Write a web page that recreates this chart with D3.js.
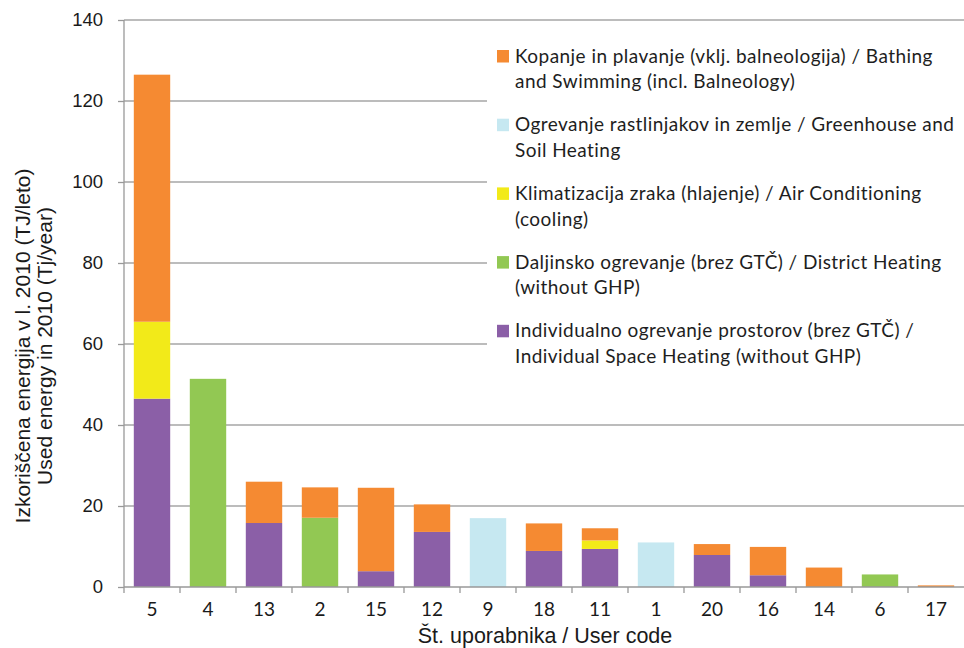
<!DOCTYPE html>
<html>
<head>
<meta charset="utf-8">
<script src="https://cdn.jsdelivr.net/npm/d3@7"></script>
<style>
  body { margin: 0; background: #fff; }
  svg { display: block; }
</style>
</head>
<body>
<div id="chart"></div>
<script>
// user codes along the x axis, sorted by total use
var users = ["5", "4", "13", "2", "15", "12", "9", "18", "11", "1", "20", "16", "14", "6", "17"];

// used energy in 2010 (TJ/year), one array per type of use
var individual = [46.5, 0, 15.8, 0, 3.9, 13.6, 0, 8.9, 9.4, 0, 7.9, 2.9, 0, 0, 0];
var district   = [0, 51.4, 0, 17.1, 0, 0, 0, 0, 0, 0, 0, 0, 0, 3.1, 0];
var cooling    = [19.0, 0, 0, 0, 0, 0, 0, 0, 2.1, 0, 0, 0, 0, 0, 0];
var greenhouse = [0, 0, 0, 0, 0, 0, 17.0, 0, 0, 11.0, 0, 0, 0, 0, 0];
var bathing    = [61.0, 0, 10.2, 7.5, 20.6, 6.8, 0, 6.8, 3.0, 0, 2.7, 7.0, 4.8, 0, 0.4];

var yTicks = [0, 20, 40, 60, 80, 100, 120, 140];

// legend entries, top to bottom
var legendLabels = [
  ["Kopanje in plavanje (vklj. balneologija) / Bathing", "and Swimming (incl. Balneology)"],
  ["Ogrevanje rastlinjakov in zemlje / Greenhouse and", "Soil Heating"],
  ["Klimatizacija zraka (hlajenje) / Air Conditioning", "(cooling)"],
  ["Daljinsko ogrevanje (brez GTČ) / District Heating", "(without GHP)"],
  ["Individualno ogrevanje prostorov (brez GTČ) /", "Individual Space Heating (without GHP)"]
];

var yTitle = ["Izkoriščena energija v l. 2010 (TJ/leto)", "Used energy in 2010 (Tj/year)"];
var xTitle = "Št. uporabnika / User code";

// build rows for d3.stack
var keys = ["individual", "district", "cooling", "greenhouse", "bathing"];
var colors = {
  individual: "#8b5fa7",
  district: "#92c853",
  cooling: "#f2ea19",
  greenhouse: "#c6e8f1",
  bathing: "#f58a32"
};
var rows = users.map(function(u, i) {
  return {
    user: u,
    individual: individual[i],
    district: district[i],
    cooling: cooling[i],
    greenhouse: greenhouse[i],
    bathing: bathing[i]
  };
});

var W = 964, H = 648;
var margin = {top: 20, right: 0, bottom: 61, left: 124};
var width = W - margin.left - margin.right,
    height = H - margin.top - margin.bottom;

var svg = d3.select("#chart")
  .append("svg")
    .attr("width", W)
    .attr("height", H);

var g = svg.append("g")
  .attr("transform", "translate(" + margin.left + "," + margin.top + ")");

var x = d3.scaleBand()
  .domain(users)
  .range([0, width])
  .paddingInner(0.35)
  .paddingOuter(0.175);

var y = d3.scaleLinear()
  .domain([0, 140])
  .range([height, 0]);

// gridlines
g.append("g")
  .selectAll("line")
  .data(yTicks.slice(1))
  .enter()
  .append("line")
    .attr("x1", 0)
    .attr("x2", width)
    .attr("y1", function(d) { return y(d); })
    .attr("y2", function(d) { return y(d); })
    .attr("stroke", "#a6a6a6")
    .attr("stroke-width", 1.3);

// stacked bars
var series = d3.stack().keys(keys)(rows);

g.selectAll("g.layer")
  .data(series)
  .enter()
  .append("g")
    .attr("class", "layer")
    .attr("fill", function(d) { return colors[d.key]; })
  .selectAll("rect")
  .data(function(d) { return d; })
  .enter()
  .filter(function(d) { return d[1] - d[0] > 0; })
  .append("rect")
    .attr("x", function(d) { return x(d.data.user); })
    .attr("width", x.bandwidth())
    .attr("y", function(d) { return y(d[1]); })
    .attr("height", function(d) { return y(d[0]) - y(d[1]); });

// legend, white box over the gridlines
var legend = g.append("g")
  .attr("transform", "translate(" + (487 - margin.left) + "," + (35 - margin.top) + ")");

legend.append("rect")
  .attr("width", 477)
  .attr("height", 345)
  .attr("fill", "#fff");

var item = legend.selectAll("g.item")
  .data(legendLabels)
  .enter()
  .append("g")
    .attr("class", "item")
    .attr("transform", function(d, i) { return "translate(0," + (27.5 + i * 68.7) + ")"; });

var legendKeys = keys.slice().reverse();

item.append("rect")
  .attr("x", 10)
  .attr("y", -12.5)
  .attr("width", 12)
  .attr("height", 12.5)
  .attr("fill", function(d, i) { return colors[legendKeys[i]]; });

item.append("text")
  .attr("x", 28)
  .style("font", "19px Lato")
  .style("letter-spacing", "0.45px")
  .style("fill", "#1e1e1e")
  .selectAll("tspan")
  .data(function(d) { return d; })
  .enter()
  .append("tspan")
    .attr("x", 28)
    .attr("dy", function(d, i) { return i === 0 ? 0 : 25.8; })
    .text(function(d) { return d; });

// y axis
var yAxis = g.append("g")
  .call(d3.axisLeft(y).tickValues(yTicks).tickSize(6).tickPadding(15))
  .style("font", "18.5px 'Liberation Sans'");
yAxis.selectAll("line, path").attr("stroke", "#999").attr("stroke-width", 1.3);
yAxis.select(".domain").attr("d", "M0," + height + "V0");
yAxis.selectAll("text").attr("fill", "#1a1a1a");

// x axis, ticks sit between the bars
var xAxis = g.append("g")
  .attr("transform", "translate(0," + height + ")")
  .call(d3.axisBottom(x).tickSize(0).tickPadding(16))
  .style("font", "19px Lato");
xAxis.select(".domain").attr("stroke", "#999").attr("stroke-width", 1.3).attr("d", "M0,0H" + width);
xAxis.selectAll("text").attr("fill", "#1a1a1a");

g.append("g")
  .attr("transform", "translate(0," + height + ")")
  .selectAll("line")
  .data(users)
  .enter()
  .append("line")
    .attr("x1", function(d) { return x(d) - x.step() * x.paddingInner() / 2; })
    .attr("x2", function(d) { return x(d) - x.step() * x.paddingInner() / 2; })
    .attr("y1", 0)
    .attr("y2", 6)
    .attr("stroke", "#999")
    .attr("stroke-width", 1.3);

// axis titles
var yt = svg.append("text")
  .attr("transform", "translate(30,346) rotate(-90)")
  .attr("text-anchor", "middle")
  .style("font", "21px 'Liberation Sans'")
  .style("fill", "#1a1a1a");
yt.append("tspan").attr("x", 0).attr("y", 0).text(yTitle[0]);
yt.append("tspan").attr("x", 0).attr("y", 22).text(yTitle[1]);

svg.append("text")
  .attr("x", 545)
  .attr("y", 643)
  .attr("text-anchor", "middle")
  .style("font", "21.5px 'Liberation Sans'")
  .style("fill", "#1a1a1a")
  .text(xTitle);
</script>
</body>
</html>
